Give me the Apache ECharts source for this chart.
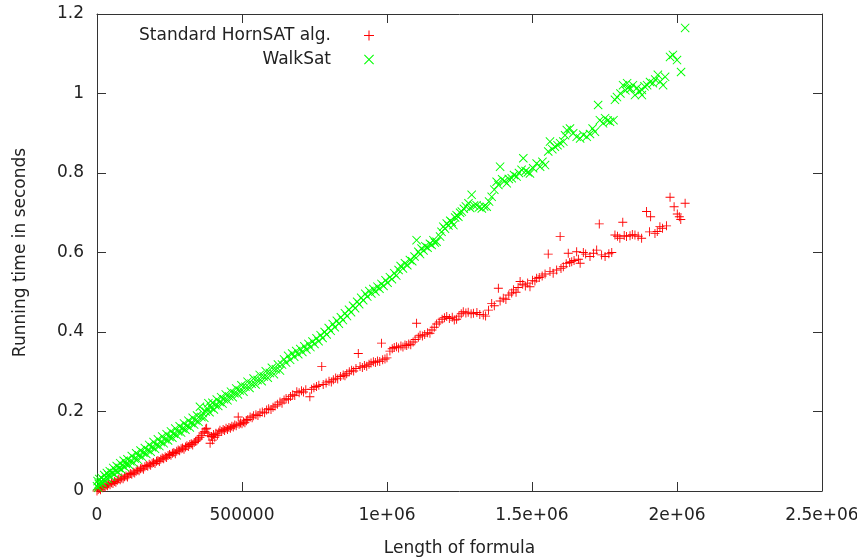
<!DOCTYPE html>
<html><head><meta charset="utf-8">
<script src="https://cdn.jsdelivr.net/npm/echarts@6/dist/echarts.min.js"></script>
<style>html,body{margin:0;padding:0;background:#fff}#c{width:857px;height:560px}</style>
</head><body><div id="c"></div>
<script>
const xTickLabels = ['0','500000','1e+06','1.5e+06','2e+06','2.5e+06'];
const yTickLabels = ['0','0.2','0.4','0.6','0.8','1','1.2'];
const seriesNames = ['Standard HornSAT alg.','WalkSat'];
const xAxisName = 'Length of formula';
const yAxisName = 'Running time in seconds';

const hornSAT = [[0,0],[4e3,.004],[8e3,.006],[12e3,.003],[16e3,.009],[20e3,.008],[24e3,.012],[28e3,.010],[32e3,.015],[36e3,.013],[40e3,.018],[45e3,.016],[50e3,.021],[55e3,.019],[60e3,.024],[65e3,.022],[70e3,.027],[75e3,.030],[80e3,.028],[85e3,.033],[90e3,.031],[95e3,.036],[100e3,.038],[105e3,.035],[110e3,.041],[115e3,.044],[120e3,.042],[125e3,.047],[130e3,.045],[135e3,.050],[140e3,.053],[145e3,.051],[150e3,.056],[155e3,.058],[160e3,.055],[165e3,.061],[170e3,.064],[175e3,.062],[180e3,.067],[185e3,.065],[190e3,.070],[195e3,.072],[200e3,.069],[205e3,.075],[210e3,.077],[215e3,.074],[220e3,.080],[225e3,.083],[230e3,.081],[235e3,.086],[240e3,.084],[245e3,.089],[250e3,.092],[255e3,.090],[260e3,.095],[265e3,.097],[270e3,.094],[275e3,.100],[280e3,.103],[285e3,.101],[290e3,.106],[295e3,.108],[300e3,.105],[305e3,.111],[310e3,.114],[315e3,.112],[320e3,.117],[325e3,.119],[330e3,.116],[335e3,.122],[340e3,.125],[345e3,.128],[350e3,.131],[355e3,.135],[360e3,.140],[365e3,.146],[370e3,.150],[375e3,.156],[378e3,.158],[382e3,.146],[386e3,.139],[390e3,.120],[395e3,.137],[398e3,.128],[402e3,.142],[406e3,.135],[410e3,.145],[415e3,.140],[420e3,.148],[424e3,.153],[430e3,.150],[435e3,.155],[440e3,.152],[445e3,.158],[450e3,.155],[455e3,.160],[460e3,.158],[465e3,.163],[470e3,.161],[475e3,.166],[480e3,.164],[487e3,.186],[490e3,.168],[495e3,.171],[500e3,.169],[505e3,.174],[510e3,.172],[515e3,.177],[520e3,.180],[528e3,.186],[535e3,.184],[540e3,.189],[548e3,.192],[555e3,.190],[562e3,.196],[570e3,.199],[578e3,.197],[585e3,.204],[592e3,.207],[600e3,.205],[607e3,.211],[614e3,.214],[622e3,.218],[631e3,.224],[638e3,.221],[645e3,.229],[652e3,.233],[660e3,.231],[667e3,.238],[675e3,.242],[682e3,.240],[689e3,.250],[697e3,.247],[705e3,.252],[712e3,.249],[720e3,.255],[734e3,.237],[740e3,.256],[748e3,.260],[757e3,.263],[765e3,.266],[775e3,.313],[780e3,.268],[790e3,.272],[800e3,.276],[808e3,.274],[815e3,.280],[823e3,.284],[830e3,.282],[840e3,.288],[849e3,.292],[855e3,.290],[861e3,.295],[870e3,.300],[878e3,.304],[885e3,.302],[893e3,.308],[901e3,.346],[907e3,.313],[915e3,.311],[922e3,.316],[930e3,.314],[938e3,.319],[945e3,.322],[953e3,.325],[960e3,.323],[967e3,.327],[975e3,.326],[981e3,.372],[985e3,.330],[993e3,.332],[1000e3,.335],[1010e3,.352],[1018e3,.358],[1025e3,.361],[1033e3,.363],[1040e3,.360],[1048e3,.365],[1055e3,.362],[1062e3,.367],[1068e3,.366],[1075e3,.370],[1082e3,.368],[1090e3,.375],[1097e3,.381],[1102e3,.422],[1108e3,.387],[1114e3,.392],[1122e3,.390],[1130e3,.394],[1140e3,.398],[1148e3,.397],[1155e3,.405],[1163e3,.412],[1171e3,.420],[1180e3,.425],[1190e3,.432],[1198e3,.436],[1206e3,.439],[1215e3,.434],[1225e3,.437],[1232e3,.430],[1240e3,.432],[1248e3,.440],[1256e3,.446],[1263e3,.451],[1272e3,.448],[1280e3,.450],[1290e3,.446],[1298e3,.447],[1310e3,.449],[1320e3,.444],[1332e3,.443],[1340e3,.440],[1350e3,.455],[1361e3,.472],[1370e3,.466],[1384e3,.510],[1390e3,.478],[1401e3,.485],[1410e3,.482],[1420e3,.493],[1430e3,.498],[1436e3,.506],[1445e3,.500],[1452e3,.512],[1459e3,.527],[1468e3,.520],[1477e3,.516],[1485e3,.523],[1493e3,.514],[1502e3,.530],[1510e3,.528],[1516e3,.535],[1525e3,.537],[1535e3,.541],[1545e3,.546],[1556e3,.596],[1562e3,.552],[1573e3,.548],[1585e3,.556],[1597e3,.640],[1600e3,.560],[1608e3,.564],[1618e3,.572],[1625e3,.598],[1630e3,.575],[1637e3,.577],[1645e3,.580],[1654e3,.602],[1660e3,.583],[1666e3,.573],[1677e3,.600],[1685e3,.596],[1700e3,.590],[1712e3,.598],[1723e3,.606],[1732e3,.672],[1740e3,.594],[1752e3,.590],[1765e3,.597],[1775e3,.600],[1786e3,.644],[1795e3,.641],[1803e3,.636],[1813e3,.676],[1818e3,.643],[1826e3,.640],[1838e3,.642],[1846e3,.645],[1855e3,.644],[1866e3,.641],[1878e3,.636],[1895e3,.703],[1905e3,.652],[1909e3,.690],[1924e3,.648],[1932e3,.653],[1941e3,.665],[1950e3,.661],[1964e3,.667],[1976e3,.739],[1990e3,.715],[2001e3,.697],[2008e3,.690],[2013e3,.683],[2028e3,.724]];

const walkSat = [[0,.012],[2e3,.025],[4e3,.008],[6e3,.018],[8e3,.030],[10e3,.015],[13e3,.022],[16e3,.033],[19e3,.020],[22e3,.028],[25e3,.040],[28e3,.026],[31e3,.035],[34e3,.045],[37e3,.031],[40e3,.040],[44e3,.050],[48e3,.036],[52e3,.046],[56e3,.058],[60e3,.042],[64e3,.052],[68e3,.063],[72e3,.048],[76e3,.058],[80e3,.070],[84e3,.054],[88e3,.064],[92e3,.076],[96e3,.060],[100e3,.068],[105e3,.080],[110e3,.066],[115e3,.075],[120e3,.088],[125e3,.072],[130e3,.082],[135e3,.095],[140e3,.079],[145e3,.089],[150e3,.102],[155e3,.086],[160e3,.096],[165e3,.108],[170e3,.093],[175e3,.103],[180e3,.116],[185e3,.099],[190e3,.110],[195e3,.123],[200e3,.106],[205e3,.116],[210e3,.130],[215e3,.113],[220e3,.123],[225e3,.137],[230e3,.120],[235e3,.130],[240e3,.143],[245e3,.127],[250e3,.136],[255e3,.150],[260e3,.134],[265e3,.144],[270e3,.157],[275e3,.140],[280e3,.150],[285e3,.163],[290e3,.147],[295e3,.157],[300e3,.170],[305e3,.154],[310e3,.164],[315e3,.177],[320e3,.160],[325e3,.171],[330e3,.184],[335e3,.167],[340e3,.178],[345e3,.190],[350e3,.174],[355e3,.212],[360e3,.186],[365e3,.196],[370e3,.184],[375e3,.200],[380e3,.208],[384e3,.221],[388e3,.198],[393e3,.210],[398e3,.222],[403e3,.205],[408e3,.216],[413e3,.230],[418e3,.214],[423e3,.224],[428e3,.236],[433e3,.220],[438e3,.231],[444e3,.243],[450e3,.228],[456e3,.238],[462e3,.250],[468e3,.236],[474e3,.246],[480e3,.258],[486e3,.243],[492e3,.253],[498e3,.266],[505e3,.250],[512e3,.262],[519e3,.275],[526e3,.259],[533e3,.270],[540e3,.283],[547e3,.268],[554e3,.279],[561e3,.292],[568e3,.276],[575e3,.288],[582e3,.301],[589e3,.285],[596e3,.297],[603e3,.310],[610e3,.294],[617e3,.306],[624e3,.318],[631e3,.303],[638e3,.318],[645e3,.331],[652e3,.323],[659e3,.340],[666e3,.330],[673e3,.346],[680e3,.338],[687e3,.352],[694e3,.344],[701e3,.357],[708e3,.350],[715e3,.364],[722e3,.356],[729e3,.370],[736e3,.362],[743e3,.376],[750e3,.370],[757e3,.384],[764e3,.377],[771e3,.392],[778e3,.385],[785e3,.400],[792e3,.394],[799e3,.410],[806e3,.403],[813e3,.420],[820e3,.412],[827e3,.428],[834e3,.421],[841e3,.437],[848e3,.430],[855e3,.447],[862e3,.440],[869e3,.456],[876e3,.450],[883e3,.466],[890e3,.460],[897e3,.476],[904e3,.470],[911e3,.486],[918e3,.480],[925e3,.496],[932e3,.489],[939e3,.503],[946e3,.497],[953e3,.508],[960e3,.502],[967e3,.514],[974e3,.509],[981e3,.521],[988e3,.516],[995e3,.530],[1002e3,.524],[1010e3,.538],[1017e3,.533],[1025e3,.548],[1032e3,.542],[1040e3,.556],[1047e3,.566],[1055e3,.560],[1062e3,.573],[1070e3,.568],[1079e3,.581],[1087e3,.578],[1095e3,.590],[1102e3,.631],[1108e3,.602],[1114e3,.596],[1119e3,.610],[1126e3,.605],[1132e3,.616],[1140e3,.612],[1148e3,.622],[1154e3,.619],[1160e3,.631],[1165e3,.625],[1171e3,.627],[1183e3,.640],[1188e3,.652],[1194e3,.665],[1200e3,.660],[1206e3,.673],[1212e3,.668],[1218e3,.680],[1223e3,.677],[1229e3,.669],[1235e3,.688],[1240e3,.694],[1246e3,.690],[1252e3,.700],[1258e3,.703],[1265e3,.710],[1272e3,.716],[1281e3,.724],[1287e3,.712],[1292e3,.745],[1300e3,.718],[1309e3,.719],[1318e3,.714],[1327e3,.711],[1335e3,.716],[1344e3,.715],[1352e3,.728],[1361e3,.740],[1370e3,.758],[1378e3,.778],[1384e3,.770],[1390e3,.816],[1397e3,.784],[1405e3,.780],[1413e3,.774],[1420e3,.785],[1430e3,.787],[1438e3,.795],[1447e3,.791],[1455e3,.800],[1464e3,.808],[1470e3,.837],[1478e3,.805],[1486e3,.802],[1493e3,.799],[1504e3,.812],[1516e3,.824],[1528e3,.816],[1536e3,.828],[1545e3,.820],[1556e3,.854],[1562e3,.879],[1570e3,.860],[1579e3,.866],[1588e3,.870],[1597e3,.875],[1608e3,.879],[1614e3,.895],[1620e3,.908],[1631e3,.912],[1642e3,.900],[1654e3,.891],[1666e3,.887],[1677e3,.896],[1689e3,.891],[1700e3,.898],[1709e3,.912],[1717e3,.904],[1728e3,.971],[1734e3,.933],[1745e3,.925],[1752e3,.938],[1761e3,.932],[1769e3,.929],[1781e3,.933],[1786e3,.984],[1793e3,.991],[1805e3,1.000],[1814e3,1.021],[1822e3,1.008],[1828e3,1.026],[1831e3,1.014],[1840e3,1.012],[1848e3,1.021],[1855e3,.996],[1862e3,1.014],[1870e3,1.005],[1879e3,1.009],[1879e3,.996],[1888e3,1.018],[1897e3,1.021],[1907e3,1.029],[1917e3,1.026],[1925e3,1.035],[1934e3,1.047],[1942e3,1.030],[1952e3,1.021],[1959e3,1.042],[1976e3,1.092],[1986e3,1.097],[2000e3,1.084],[2014e3,1.054],[2028e3,1.165]];

const FONT = 'DejaVu Sans';
const FS = 17;
const TEXT = '#222';
const AXIS = '#333';
const plusPath = 'path://M4.5,0H5.5V4.5H10V5.5H5.5V10H4.5V5.5H0V4.5H4.5Z';
const crossPath = 'path://M0.75,0L5,4.25L9.25,0L10,0.75L5.75,5L10,9.25L9.25,10L5,5.75L0.75,10L0,9.25L4.25,5L0,0.75Z';

function mkX(pos, show) {
  return {
    type: 'value', min: 0, max: 2500000, interval: 500000, position: pos,
    axisLine: {show: true, onZero: false, lineStyle: {color: AXIS, width: 1}},
    axisTick: {show: true, inside: true, length: 9, lineStyle: {color: AXIS}},
    axisLabel: {show: show, color: TEXT, fontSize: FS, fontFamily: FONT, margin: 16,
      formatter: v => xTickLabels[Math.round(v / 500000)]},
    splitLine: {show: false},
    name: show ? xAxisName : '', nameLocation: 'middle', nameGap: 49,
    nameTextStyle: {color: TEXT, fontSize: FS, fontFamily: FONT}
  };
}
function mkY(pos, show) {
  return {
    type: 'value', min: 0, max: 1.2, interval: 0.2, position: pos,
    axisLine: {show: true, onZero: false, lineStyle: {color: AXIS, width: 1}},
    axisTick: {show: true, inside: true, length: 9, lineStyle: {color: AXIS}},
    axisLabel: {show: show, color: TEXT, fontSize: FS, fontFamily: FONT, margin: 13,
      formatter: v => yTickLabels[Math.round(v / 0.2)]},
    splitLine: {show: false},
    name: show ? yAxisName : '', nameLocation: 'middle', nameGap: 68,
    nameTextStyle: {color: TEXT, fontSize: FS, fontFamily: FONT}
  };
}
function mkLegend(name, top) {
  return {
    data: [name], right: 483, top: top, orient: 'horizontal', align: 'right',
    padding: 0, itemWidth: 10, itemHeight: 10, selectedMode: false,
    textStyle: {color: TEXT, fontSize: FS, fontFamily: FONT, padding: [0, 28, 0, 0]}
  };
}

const chart = echarts.init(document.getElementById('c'), null, {renderer: 'canvas'});
chart.setOption({
  animation: false,
  backgroundColor: '#fff',
  textStyle: {fontFamily: FONT},
  grid: {left: 97, right: 35, top: 14, bottom: 69, containLabel: false, outerBoundsMode: 'none'},
  xAxis: [mkX('bottom', true), mkX('top', false)],
  yAxis: [mkY('left', true), mkY('right', false)],
  legend: [mkLegend(seriesNames[0], 27), mkLegend(seriesNames[1], 51)],
  series: [
    {type: 'scatter', name: seriesNames[0], data: hornSAT, symbol: plusPath, symbolSize: 9,
     itemStyle: {color: '#ff0000', opacity: 1}, emphasis: {disabled: true}},
    {type: 'scatter', name: seriesNames[1], data: walkSat, symbol: crossPath, symbolSize: 9,
     itemStyle: {color: '#00ff00', opacity: 1}, emphasis: {disabled: true}}
  ]
});
</script></body></html>
